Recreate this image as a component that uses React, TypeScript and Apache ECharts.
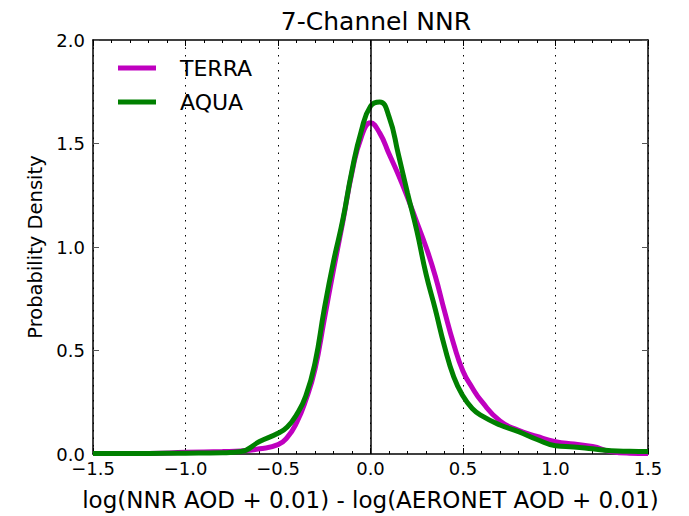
import React, { useEffect, useRef } from "react";
import * as echarts from "echarts";

const xValues = [
  -1.5, -1.2, -1.0, -0.8, -0.7, -0.6, -0.5, -0.45, -0.4, -0.35, -0.3, -0.25, -0.2, -0.15, -0.1, -0.05,
  0, 0.05, 0.1, 0.15, 0.2, 0.25, 0.3, 0.35, 0.4, 0.45, 0.5, 0.55, 0.6, 0.7, 0.8, 0.9, 1.0, 1.1, 1.2, 1.3,
  1.4, 1.5,
];
const terraValues = [
  0.002, 0.003, 0.008, 0.012, 0.015, 0.025, 0.045, 0.08, 0.15, 0.26, 0.41, 0.65, 0.89, 1.12, 1.36, 1.53,
  1.6, 1.55, 1.45, 1.35, 1.24, 1.12, 1.0, 0.86, 0.69, 0.53, 0.4, 0.32, 0.255, 0.16, 0.115, 0.085, 0.06,
  0.048, 0.036, 0.012, 0.004, 0.003,
];
const aquaValues = [
  0.003, 0.003, 0.004, 0.006, 0.012, 0.06, 0.1, 0.13, 0.19, 0.28, 0.44, 0.7, 0.93, 1.13, 1.37, 1.56,
  1.68, 1.7, 1.63, 1.45, 1.26, 1.08, 0.87, 0.7, 0.52, 0.373, 0.28, 0.22, 0.185, 0.14, 0.108, 0.07, 0.04,
  0.034, 0.025, 0.016, 0.013, 0.012,
];
const seriesNames = ["TERRA", "AQUA"];
const seriesColors = ["#bf00bf", "#008000"];

const FONT = "DejaVu Sans";

export default function App() {
  const ref = useRef<HTMLDivElement>(null);
  useEffect(() => {
    document.body.style.margin = "0";
    if (!ref.current) return;
    const chart = echarts.init(ref.current, undefined, { renderer: "svg" });
    const minus = (v: number) => v.toFixed(1).replace("-", "\u2212");
    const commonX = {
      type: "value",
      min: -1.5,
      max: 1.5,
      interval: 0.5,
      axisLine: { show: true, onZero: false, lineStyle: { color: "#000", width: 1.5 } },
      axisTick: { show: true, inside: true, length: 6, lineStyle: { color: "#000", width: 1 } },
      minorTick: { show: true, splitNumber: 5, length: 3, lineStyle: { color: "#000", width: 1 } },
    };
    const commonY = {
      type: "value",
      min: 0,
      max: 2,
      interval: 0.5,
      axisLine: { show: true, onZero: false, lineStyle: { color: "#000", width: 1.5 } },
      axisTick: { show: true, inside: true, length: 6, lineStyle: { color: "#555", width: 1 } },
      splitLine: { show: false },
    };
    chart.setOption({
      animation: false,
      title: {
        text: "7-Channel NNR",
        left: 371,
        top: 4,
        textAlign: "center",
        textStyle: { fontFamily: FONT, fontSize: 25, fontWeight: "normal", color: "#000" },
      },
      legend: {
        orient: "vertical",
        left: 118,
        top: 57,
        itemWidth: 38,
        itemHeight: 5,
        itemGap: 12,
        icon: "rect",
        padding: 0,
        data: seriesNames,
        textStyle: { fontFamily: FONT, fontSize: 22, lineHeight: 22, color: "#000", padding: [0, 0, 0, 19] },
      },
      grid: { left: 93, right: 41, top: 40, bottom: 62, containLabel: false },
      xAxis: [
        {
          ...commonX,
          position: "bottom",
          name: "log(NNR AOD + 0.01) - log(AERONET AOD + 0.01)",
          nameLocation: "middle",
          nameGap: 34,
          nameTextStyle: { fontFamily: FONT, fontSize: 23, color: "#000" },
          axisLabel: { formatter: minus, fontFamily: FONT, fontSize: 18, color: "#000", margin: 5 },
          splitLine: { show: true, lineStyle: { color: "#000", type: [1.5, 6], width: 1 } },
        },
        {
          ...commonX,
          position: "top",
          axisLabel: { show: false },
          splitLine: { show: false },
        },
      ],
      yAxis: [
        {
          ...commonY,
          position: "left",
          name: "Probability Density",
          nameLocation: "middle",
          nameGap: 48,
          nameTextStyle: { fontFamily: FONT, fontSize: 19.5, color: "#000" },
          axisLabel: { formatter: (v: number) => v.toFixed(1), fontFamily: FONT, fontSize: 18, color: "#000", margin: 8 },
        },
        {
          ...commonY,
          position: "right",
          axisLabel: { show: false },
        },
      ],
      series: [
        {
          name: seriesNames[0],
          type: "line",
          data: xValues.map((x, i) => [x, terraValues[i]]),
          smooth: 0.5,
          symbol: "none",
          color: seriesColors[0],
          lineStyle: { width: 5, color: seriesColors[0] },
          markLine: {
            silent: true,
            symbol: ["none", "none"],
            label: { show: false },
            lineStyle: { color: "#000", type: "solid", width: 1.5 },
            data: [{ xAxis: 0 }],
          },
        },
        {
          name: seriesNames[1],
          type: "line",
          data: xValues.map((x, i) => [x, aquaValues[i]]),
          smooth: 0.5,
          symbol: "none",
          color: seriesColors[1],
          lineStyle: { width: 5, color: seriesColors[1] },
        },
      ],
    });
    return () => chart.dispose();
  }, []);
  return <div ref={ref} style={{ width: 689, height: 516 }} />;
}
